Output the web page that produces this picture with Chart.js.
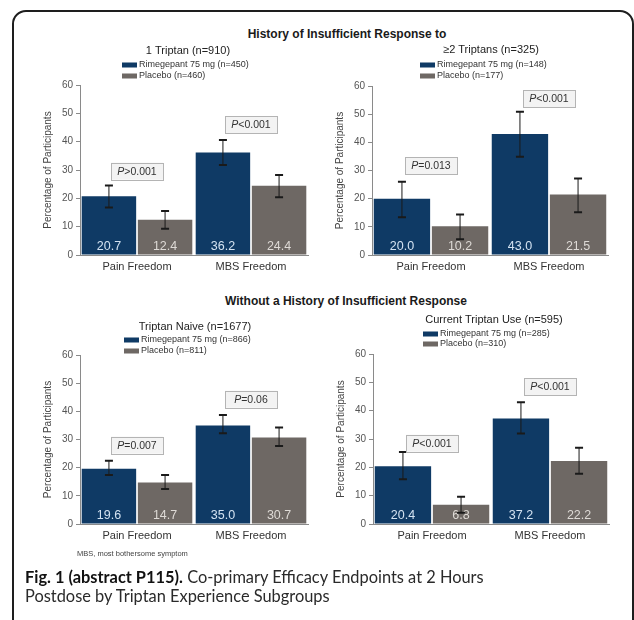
<!DOCTYPE html>
<html>
<head>
<meta charset="utf-8">
<script src="https://cdn.jsdelivr.net/npm/chart.js@4.4.1/dist/chart.umd.min.js"></script>
<style>
  body { margin: 0; background: #fff; width: 634px; height: 620px; overflow: hidden; position: relative; font-family: "Liberation Sans", Arial, sans-serif; }
  #frame { position: absolute; left: 12px; top: 10px; width: 618px; height: 660px; border: 2px solid #1e1e1e; border-radius: 14px; }
  .section { position: absolute; width: 400px; text-align: center; font-weight: bold; font-size: 12px; color: #1a1a1a; }
  .box { position: absolute; }
  #foot { position: absolute; left: 77px; top: 549px; font-size: 7.5px; color: #444; }
  #caption { position: absolute; left: 25px; top: 567px; font-family: Lato, "Open Sans", sans-serif; font-size: 16.4px; line-height: 19px; color: #2a2a2a; }
  #caption b { color: #111; }
</style>
</head>
<body>
<div id="frame"></div>
<div class="section" style="left:147px; top:27px">History of Insufficient Response to</div>
<div class="section" style="left:146px; top:294px">Without a History of Insufficient Response</div>

<div class="box" style="left:38px; top:40px; width:277px; height:240px"><canvas id="c0"></canvas></div>
<div class="box" style="left:330px; top:40px; width:285px; height:240px"><canvas id="c1"></canvas></div>
<div class="box" style="left:38px; top:310px; width:277px; height:240px"><canvas id="c2"></canvas></div>
<div class="box" style="left:331px; top:310px; width:284px; height:240px"><canvas id="c3"></canvas></div>

<div id="foot">MBS, most bothersome symptom</div>
<div id="caption"><b>Fig. 1 (abstract P115).</b> Co-primary Efficacy Endpoints at 2 Hours<br>Postdose by Triptan Experience Subgroups</div>

<script>
// data
const categories = ['Pain Freedom', 'MBS Freedom'];
const panelTitles = ['1 Triptan (n=910)', '\u22652 Triptans (n=325)', 'Triptan Naive (n=1677)', 'Current Triptan Use (n=595)'];
const rimegepantLabels = ['Rimegepant 75 mg (n=450)', 'Rimegepant 75 mg (n=148)', 'Rimegepant 75 mg (n=866)', 'Rimegepant 75 mg (n=285)'];
const placeboLabels = ['Placebo (n=460)', 'Placebo (n=177)', 'Placebo (n=811)', 'Placebo (n=310)'];

const rimegepantValues = [[20.7, 36.2], [20.0, 43.0], [19.6, 35.0], [20.4, 37.2]];
const placeboValues = [[12.4, 24.4], [10.2, 21.5], [14.7, 30.7], [6.8, 22.2]];

// 95% CI ends (estimated from the whiskers)
const rimegepantLower = [[16.8, 31.8], [13.4, 34.9], [17.4, 32.2], [15.8, 31.9]];
const rimegepantUpper = [[24.5, 40.6], [26.0, 50.9], [22.5, 38.7], [25.4, 43.0]];
const placeboLower = [[9.3, 20.4], [5.6, 15.2], [12.4, 27.7], [4.0, 17.7]];
const placeboUpper = [[15.5, 28.2], [14.4, 27.2], [17.4, 34.3], [9.6, 26.9]];

const pValueTexts = [['>0.001', '<0.001'], ['=0.013', '<0.001'], ['=0.007', '=0.06'], ['<0.001', '<0.001']];
const pValueLevels = [[29.6, 46.0], [31.6, 55.4], [28.0, 44.3], [28.5, 48.5]];

const yTickValues = [0, 10, 20, 30, 40, 50, 60];

// layout of each panel (pixels)
const panelLayout = [
    { pad: { top: 45, right: 7, bottom: 3 }, legendX: 42, subDx: -6, subDy: -34, legDy: [-20, -9] },
    { pad: { top: 46, right: 7, bottom: 3 }, legendX: 48, subDx: 1, subDy: -36, legDy: [-21, -10] },
    { pad: { top: 45, right: 7, bottom: 4 }, legendX: 44, subDx: 1, subDy: -28, legDy: [-15, -4] },
    { pad: { top: 44, right: 6, bottom: 4 }, legendX: 50, subDx: 3, subDy: -34, legDy: [-20, -10] }
];

const BLUE = '#0f3a65';
const GRAY = '#6e6864';

const extrasPlugin = {
    id: 'extras',
    afterDatasetsDraw(chart) {
        const p = chart.options.plugins.extras;
        const ctx = chart.ctx;
        const y = chart.scales.y;
        const lows = [rimegepantLower[p.panel], placeboLower[p.panel]];
        const highs = [rimegepantUpper[p.panel], placeboUpper[p.panel]];
        ctx.save();
        chart.data.datasets.forEach((ds, di) => {
            const meta = chart.getDatasetMeta(di);
            meta.data.forEach((bar, i) => {
                // value label inside the bar
                ctx.fillStyle = di === 0 ? '#d3e2f1' : '#dedad6';
                ctx.font = '12.5px "Liberation Sans", Arial';
                ctx.textAlign = 'center';
                ctx.textBaseline = 'middle';
                ctx.fillText(ds.data[i].toFixed(1), bar.x, y.bottom - 8);
                // error bar
                const top = y.getPixelForValue(highs[di][i]);
                const bot = y.getPixelForValue(lows[di][i]);
                ctx.strokeStyle = '#1a1a1a';
                ctx.lineWidth = 1;
                ctx.beginPath();
                ctx.moveTo(bar.x, top);
                ctx.lineTo(bar.x, bot);
                ctx.stroke();
                ctx.lineWidth = 2;
                ctx.beginPath();
                ctx.moveTo(bar.x - 4, top); ctx.lineTo(bar.x + 4, top);
                ctx.moveTo(bar.x - 4, bot); ctx.lineTo(bar.x + 4, bot);
                ctx.stroke();
            });
        });
        // P-value boxes
        const x = chart.scales.x;
        categories.forEach((c, i) => {
            const cx = x.getPixelForValue(i);
            const cy = y.getPixelForValue(pValueLevels[p.panel][i]);
            const w = 52, h = 17;
            ctx.fillStyle = '#f3f3f3';
            ctx.strokeStyle = '#b4b4b4';
            ctx.lineWidth = 1;
            ctx.fillRect(cx - w / 2, cy - h / 2, w, h);
            ctx.strokeRect(Math.round(cx - w / 2) + 0.5, Math.round(cy - h / 2) + 0.5, w, h);
            ctx.fillStyle = '#333';
            ctx.textBaseline = 'middle';
            ctx.font = 'italic 10.5px "Liberation Sans", Arial';
            const pw = ctx.measureText('P').width;
            ctx.font = '10.5px "Liberation Sans", Arial';
            const rest = pValueTexts[p.panel][i];
            const rw = ctx.measureText(rest).width;
            const sx = cx - (pw + rw) / 2;
            ctx.textAlign = 'left';
            ctx.font = 'italic 10.5px "Liberation Sans", Arial';
            ctx.fillText('P', sx, cy + 0.5);
            ctx.font = '10.5px "Liberation Sans", Arial';
            ctx.fillText(rest, sx + pw, cy + 0.5);
        });
        ctx.restore();
    },
    afterDraw(chart) {
        const p = chart.options.plugins.extras;
        const L = panelLayout[p.panel];
        const a = chart.chartArea;
        const ctx = chart.ctx;
        ctx.save();
        ctx.fillStyle = '#222';
        ctx.font = '11px "Liberation Sans", Arial';
        ctx.textAlign = 'center';
        ctx.textBaseline = 'middle';
        ctx.fillText(panelTitles[p.panel], (a.left + a.right) / 2 + L.subDx, a.top + L.subDy);
        ctx.textAlign = 'left';
        ctx.font = '9px "Liberation Sans", Arial';
        chart.data.datasets.forEach((ds, di) => {
            const ly = a.top + L.legDy[di];
            ctx.fillStyle = ds.backgroundColor;
            ctx.fillRect(a.left + L.legendX, ly - 2.5, 15, 5);
            ctx.fillStyle = '#333';
            ctx.fillText(ds.label, a.left + L.legendX + 17, ly);
        });
        ctx.restore();
    }
};

function makeChart(panel) {
    const L = panelLayout[panel];
    return new Chart(document.getElementById('c' + panel).getContext('2d'), {
        type: 'bar',
        data: {
            labels: categories,
            datasets: [{
                label: rimegepantLabels[panel],
                data: rimegepantValues[panel],
                backgroundColor: BLUE
            }, {
                label: placeboLabels[panel],
                data: placeboValues[panel],
                backgroundColor: GRAY
            }]
        },
        options: {
            responsive: true,
            maintainAspectRatio: false,
            animation: false,
            barPercentage: 0.97,
            categoryPercentage: 0.985,
            layout: { padding: { left: 0, top: L.pad.top, right: L.pad.right, bottom: L.pad.bottom } },
            plugins: {
                legend: { display: false },
                tooltip: { enabled: false },
                extras: { panel: panel }
            },
            scales: {
                x: {
                    grid: { display: false, drawTicks: false },
                    border: { display: true, color: '#8a8a8a' },
                    ticks: { color: '#333', font: { size: 11, family: '"Liberation Sans", Arial' }, padding: 5 },
                    afterFit(scale) { scale.height = 22; }
                },
                y: {
                    min: 0,
                    max: 60,
                    afterBuildTicks(scale) { scale.ticks = yTickValues.map(v => ({ value: v })); },
                    grid: { display: true, drawOnChartArea: false, drawTicks: true, tickLength: 4, color: '#8a8a8a' },
                    border: { display: true, color: '#8a8a8a' },
                    ticks: { color: '#555', font: { size: 10, family: '"Liberation Sans", Arial' }, padding: 3 },
                    title: {
                        display: true,
                        text: 'Percentage of Participants',
                        color: '#444',
                        font: { size: 10, family: '"Liberation Sans", Arial' },
                        padding: { top: 4, bottom: 0 }
                    },
                    afterFit(scale) { scale.width = 42; }
                }
            }
        },
        plugins: [extrasPlugin]
    });
}

[0, 1, 2, 3].forEach(makeChart);
</script>
</body>
</html>
